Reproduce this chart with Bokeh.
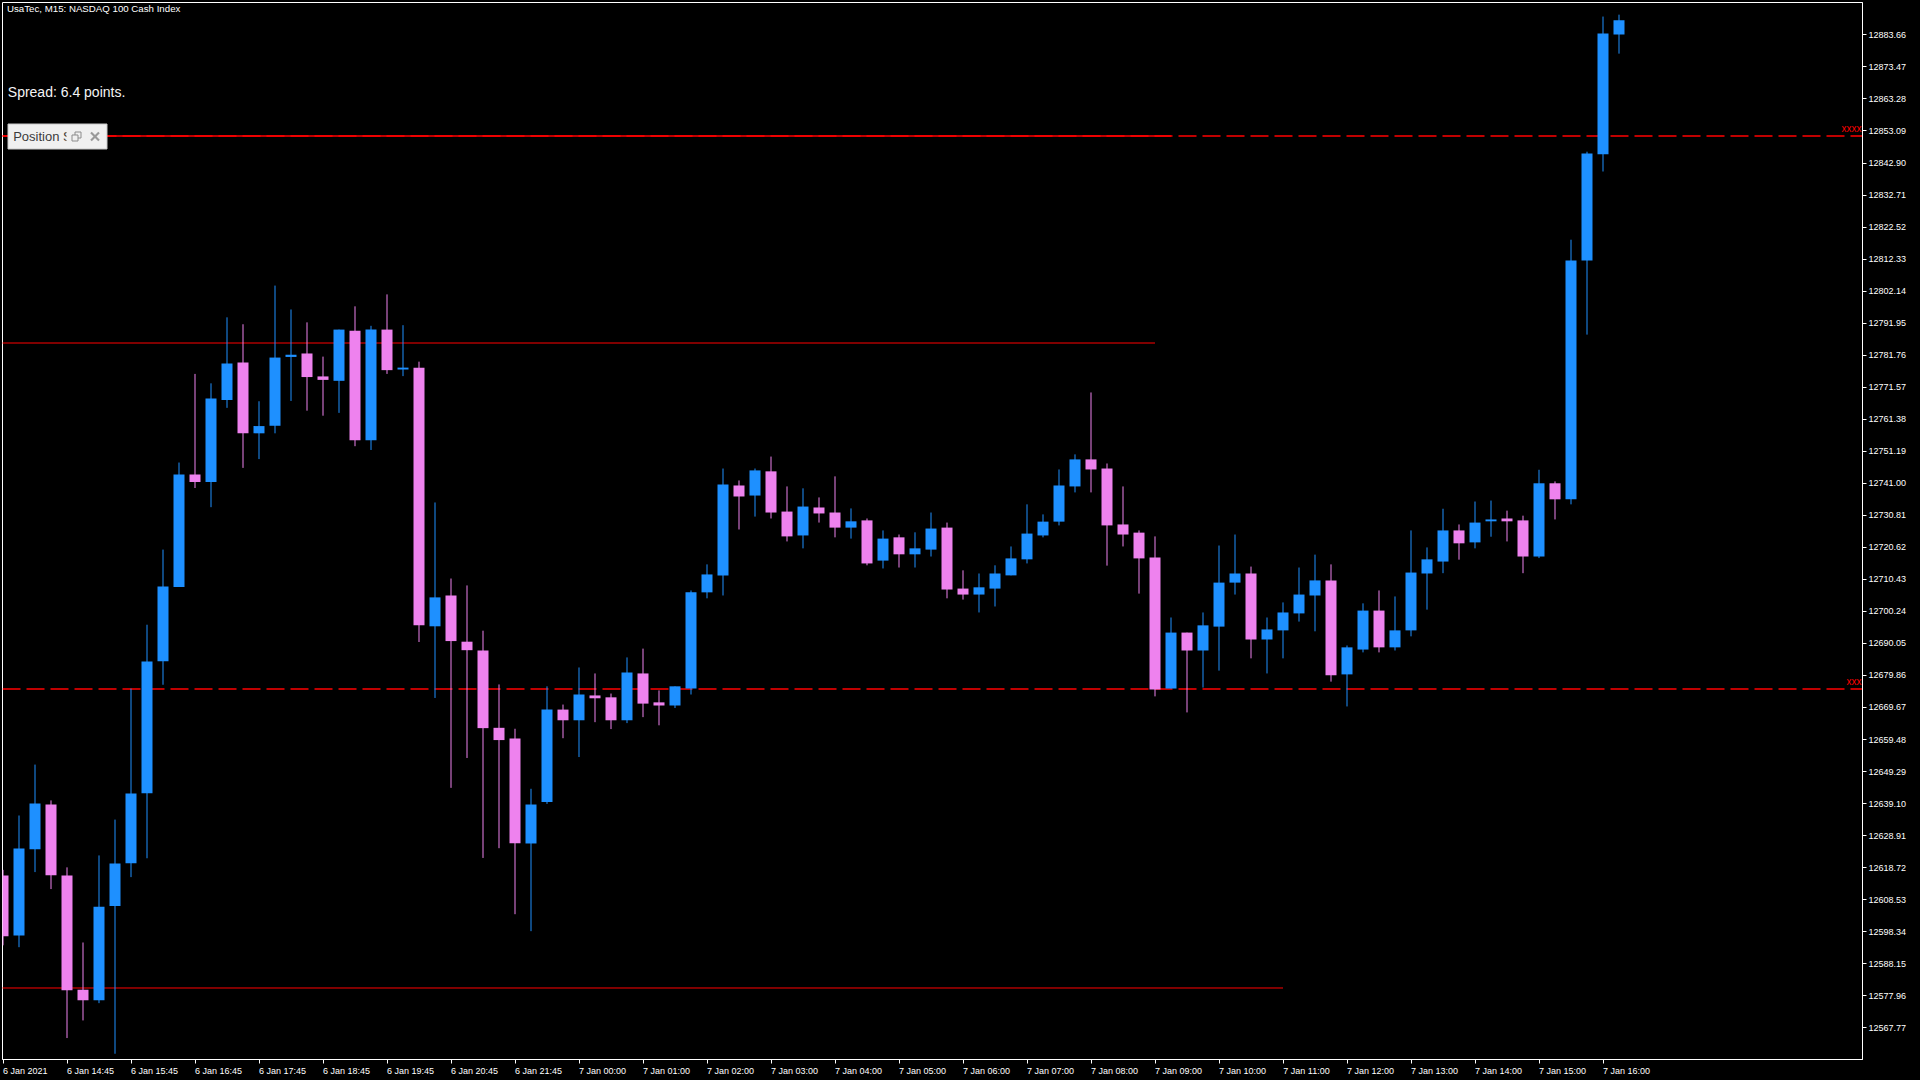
from bokeh.plotting import figure
from bokeh.models import (Range1d, FixedTicker, Span, Label, ColumnDataSource,
                          NumeralTickFormatter, LinearAxis, CustomJSTickFormatter)
from bokeh.core.properties import value
from bokeh.embed import file_html
from bokeh.resources import INLINE

# ---------------- data (USATEC M15, 6-7 Jan 2021) ----------------
opens = [12616.2, 12597.1, 12624.6, 12638.8, 12616.2, 12579.9, 12576.5, 12606.5, 12620.1, 12642.4,
         12684.4, 12708.0, 12743.8, 12741.4, 12767.5, 12779.4, 12756.9, 12759.3, 12781.2, 12782.3,
         12775.0, 12773.6, 12789.5, 12754.7, 12789.9, 12777.2, 12777.8, 12695.5, 12705.3, 12690.6,
         12687.8, 12663.2, 12659.8, 12626.4, 12639.6, 12669.0, 12665.6, 12673.5, 12672.9, 12665.6,
         12680.5, 12671.3, 12670.3, 12675.7, 12706.3, 12711.7, 12740.3, 12737.1, 12744.8, 12732.0,
         12724.4, 12733.3, 12731.7, 12726.9, 12729.2, 12716.4, 12723.8, 12718.4, 12719.9, 12726.9,
         12707.5, 12705.6, 12707.5, 12711.7, 12716.8, 12724.4, 12728.8, 12740.0, 12748.6, 12745.7,
         12727.9, 12725.3, 12717.4, 12675.7, 12693.5, 12687.8, 12695.4, 12709.4, 12712.3, 12691.3,
         12694.2, 12699.6, 12705.3, 12710.1, 12680.2, 12688.1, 12700.5, 12688.8, 12694.2, 12712.3,
         12716.1, 12726.0, 12722.2, 12728.9, 12729.8, 12729.2, 12717.7, 12741.0, 12735.9, 12811.9,
         12845.7, 12883.8]
highs = [12618.0, 12635.3, 12651.5, 12640.1, 12618.8, 12594.9, 12622.6, 12634.0, 12675.7, 12696.0,
         12719.9, 12747.6, 12775.8, 12772.8, 12793.8, 12791.6, 12767.1, 12803.9, 12796.3, 12792.2,
         12781.3, 12789.9, 12797.3, 12791.1, 12801.1, 12791.3, 12779.7, 12734.9, 12710.7, 12708.5,
         12694.1, 12677.0, 12662.9, 12643.8, 12676.4, 12670.6, 12682.4, 12680.5, 12674.1, 12685.6,
         12688.4, 12675.1, 12676.4, 12706.9, 12715.2, 12745.7, 12741.9, 12745.7, 12749.5, 12740.0,
         12739.4, 12736.5, 12743.2, 12733.0, 12729.8, 12726.0, 12724.7, 12725.4, 12731.7, 12728.5,
         12713.3, 12712.3, 12714.9, 12720.9, 12734.3, 12731.1, 12745.4, 12750.2, 12769.9, 12747.3,
         12740.0, 12726.0, 12724.1, 12698.3, 12693.5, 12699.9, 12721.2, 12724.7, 12714.5, 12698.3,
         12703.1, 12714.2, 12718.3, 12715.2, 12689.4, 12702.8, 12706.9, 12705.0, 12726.0, 12720.6,
         12732.9, 12727.9, 12735.2, 12735.5, 12732.3, 12730.7, 12745.3, 12741.6, 12818.5, 12846.5,
         12889.5, 12890.1]
lows = [12594.0, 12593.4, 12617.3, 12611.9, 12564.5, 12570.1, 12575.6, 12559.5, 12615.7, 12621.7,
        12676.9, 12708.0, 12739.5, 12733.4, 12765.0, 12745.9, 12748.7, 12756.9, 12767.2, 12764.1,
        12762.5, 12763.4, 12752.8, 12751.6, 12775.8, 12775.1, 12690.5, 12672.7, 12644.1, 12653.6,
        12621.8, 12624.9, 12603.9, 12598.5, 12639.0, 12659.9, 12653.9, 12665.0, 12662.8, 12664.7,
        12666.6, 12664.0, 12669.5, 12673.8, 12704.4, 12705.3, 12726.3, 12730.4, 12729.8, 12722.5,
        12720.3, 12728.5, 12723.8, 12723.4, 12714.9, 12713.9, 12714.2, 12714.2, 12717.7, 12704.4,
        12704.0, 12699.9, 12701.8, 12711.7, 12715.5, 12723.8, 12727.6, 12738.1, 12738.1, 12714.8,
        12720.9, 12705.9, 12673.2, 12675.7, 12668.1, 12676.0, 12681.4, 12705.6, 12685.3, 12680.5,
        12685.3, 12697.0, 12693.9, 12677.9, 12670.0, 12687.2, 12687.2, 12687.8, 12692.3, 12700.8,
        12712.4, 12716.7, 12720.3, 12724.0, 12722.5, 12712.4, 12717.2, 12729.5, 12734.3, 12788.3,
        12840.2, 12877.7]
closes = [12596.9, 12624.8, 12639.1, 12616.3, 12579.7, 12576.5, 12606.3, 12620.0, 12642.3, 12684.3,
          12708.2, 12743.8, 12741.4, 12768.0, 12779.1, 12756.9, 12759.2, 12781.0, 12781.9, 12774.8,
          12773.9, 12789.9, 12754.7, 12789.9, 12777.0, 12777.8, 12695.8, 12704.7, 12690.8, 12687.9,
          12663.1, 12659.3, 12626.5, 12638.8, 12669.0, 12665.6, 12673.8, 12672.6, 12665.6, 12680.8,
          12670.9, 12670.3, 12676.4, 12706.3, 12712.0, 12740.6, 12736.8, 12745.1, 12731.7, 12724.1,
          12733.6, 12731.4, 12726.9, 12728.9, 12715.5, 12723.4, 12718.4, 12720.3, 12726.6, 12707.2,
          12705.6, 12707.9, 12712.3, 12717.1, 12725.0, 12728.8, 12740.3, 12748.6, 12745.4, 12727.6,
          12724.7, 12717.1, 12675.4, 12693.5, 12687.8, 12695.8, 12709.4, 12712.3, 12691.3, 12694.5,
          12699.9, 12705.6, 12710.1, 12679.9, 12688.8, 12700.5, 12688.8, 12694.2, 12712.6, 12716.8,
          12726.0, 12721.9, 12728.5, 12729.5, 12728.9, 12717.7, 12741.0, 12735.9, 12811.9, 12845.9,
          12884.1, 12888.3]

x_tick_labels = ["6 Jan 2021", "6 Jan 14:45", "6 Jan 15:45", "6 Jan 16:45", "6 Jan 17:45",
                 "6 Jan 18:45", "6 Jan 19:45", "6 Jan 20:45", "6 Jan 21:45", "7 Jan 00:00",
                 "7 Jan 01:00", "7 Jan 02:00", "7 Jan 03:00", "7 Jan 04:00", "7 Jan 05:00",
                 "7 Jan 06:00", "7 Jan 07:00", "7 Jan 08:00", "7 Jan 09:00", "7 Jan 10:00",
                 "7 Jan 11:00", "7 Jan 12:00", "7 Jan 13:00", "7 Jan 14:00", "7 Jan 15:00",
                 "7 Jan 16:00"]
y_tick_values = [12567.77, 12577.96, 12588.15, 12598.34, 12608.53, 12618.72, 12628.91, 12639.10,
                 12649.29, 12659.48, 12669.67, 12679.86, 12690.05, 12700.24, 12710.43, 12720.62,
                 12730.81, 12741.00, 12751.19, 12761.38, 12771.57, 12781.76, 12791.95, 12802.14,
                 12812.33, 12822.52, 12832.71, 12842.90, 12853.09, 12863.28, 12873.47, 12883.66]

level_tp = 12851.5        # dashed order level (top)
level_open = 12675.55     # dashed order level (middle)
level_resist = 12785.63   # solid horizontal segment
level_support = 12580.42  # solid horizontal segment
tp_segment_end_bar = 73
resist_end_bar = 72
support_end_bar = 80

chart_title = "UsaTec, M15:  NASDAQ 100 Cash Index"
spread_text = "Spread: 6.4 points."
panel_text = "Position S"

# ---------------- layout constants (pixels) ----------------
W, H = 1920, 1080
FL, FT, FR, FB = 2, 2, 1862, 1059          # frame edges
BAR_PX = 16.0
X_START = (FL - 2.5) / BAR_PX
X_END = X_START + (FR - FL) / BAR_PX
Y_TOP, Y_BOT = 12893.97, 12557.67

def dx(px):
    return X_START + (px - FL) / BAR_PX

def dy(py):
    return Y_TOP - (py - FT) * (Y_TOP - Y_BOT) / (FB - FT)

BULL, BEAR = "#1E90FF", "#EE82EE"
FONT = "Liberation Sans"
AXIS_FONT_PX = 9.0

# approximate advance widths (em) of Liberation Sans, used to left-align time labels
_ADV = {" ": 0.278, ":": 0.278, "J": 0.5, "a": 0.556, "n": 0.556}
def text_px(s, size):
    return sum(_ADV.get(ch, 0.556) for ch in s) * size

idx = list(range(len(opens)))
colors = [BULL if c >= o else BEAR for o, c in zip(opens, closes)]
src = ColumnDataSource(dict(
    x=idx, o=opens, h=highs, l=lows, c=closes, col=colors,
    top=[max(o, c) for o, c in zip(opens, closes)],
    bot=[min(o, c) for o, c in zip(opens, closes)],
))

p = figure(width=W, height=H, output_backend="svg", toolbar_location=None,
           x_range=Range1d(X_START, X_END), y_range=Range1d(Y_BOT, Y_TOP),
           y_axis_location="right", title=None,
           min_border_left=FL, min_border_top=FT,
           min_border_right=W - FR, min_border_bottom=H - FB)
p.background_fill_color = "black"
p.border_fill_color = "black"
p.outline_line_color = "white"
p.outline_line_width = 1
p.xgrid.visible = False
p.ygrid.visible = False

# horizontal lines
for lvl in (level_tp, level_open):
    p.add_layout(Span(location=lvl, dimension="width", line_color="#FF0000",
                      line_width=1.5, line_dash="18 6", level="underlay"))
p.segment(x0=[X_START - 1], x1=[tp_segment_end_bar], y0=[level_tp], y1=[level_tp],
          line_color="#FF0000", line_width=1.5)
p.segment(x0=[X_START - 1] * 2, x1=[resist_end_bar, support_end_bar],
          y0=[level_resist, level_support], y1=[level_resist, level_support],
          line_color="#FF0000", line_width=1)

# candles
p.segment(x0="x", x1="x", y0="l", y1="h", line_color="col", line_width=1, source=src)
p.vbar(x="x", width=11 / BAR_PX, top="top", bottom="bot", fill_color="col",
       line_color=None, source=src)

# ---- axes ----
ticks_x = [4 * k for k in range(len(x_tick_labels))]
# inner bottom axis: tick marks only
ax = p.xaxis[0]
ax.ticker = FixedTicker(ticks=ticks_x)
ax.major_label_overrides = {t: "" for t in ticks_x}
ax.major_label_text_font_size = "0px"
ax.major_label_standoff = 0
ax.axis_line_color = "white"
ax.major_tick_line_color = "white"
ax.minor_tick_line_color = None
ax.major_tick_out = 4
ax.major_tick_in = 0
# outer bottom axis: labels whose left edge sits on the tick (MetaTrader style)
label_centres = [round(t + text_px(lab, AXIS_FONT_PX) / 2 / BAR_PX, 5)
                 for t, lab in zip(ticks_x, x_tick_labels)]
ax_lab = LinearAxis(ticker=FixedTicker(ticks=label_centres),
                    formatter=CustomJSTickFormatter(args=dict(labels=x_tick_labels),
                                                    code="return labels[index] || '';"),
                    axis_line_color=None, major_tick_line_color=None,
                    minor_tick_line_color=None, major_tick_out=0, major_tick_in=0,
                    major_label_standoff=2, major_label_text_color="white",
                    major_label_text_font=FONT,
                    major_label_text_font_size=f"{AXIS_FONT_PX}px")
p.add_layout(ax_lab, "below")

ay = p.yaxis[0]
ay.ticker = FixedTicker(ticks=y_tick_values)
ay.formatter = NumeralTickFormatter(format="0.00")
ay.axis_line_color = "white"
ay.major_tick_line_color = "white"
ay.minor_tick_line_color = None
ay.major_tick_out = 4
ay.major_tick_in = 0
ay.major_label_text_color = "white"
ay.major_label_text_font = FONT
ay.major_label_text_font_size = f"{AXIS_FONT_PX}px"
ay.major_label_standoff = 2

# texts
p.add_layout(Label(x=dx(6.5), y=dy(8.2), text=chart_title, text_color="white",
                   text_font=FONT, text_font_size="9.7px",
                   text_align="left", text_baseline="middle"))
p.add_layout(Label(x=dx(7.3), y=dy(91.0), text=spread_text, text_color="#F4F4F4",
                   text_font=FONT, text_font_size="14px",
                   text_align="left", text_baseline="middle"))
for py, t in ((127.5, "xxxx"), (680.5, "xxx")):
    p.add_layout(Label(x=dx(1861), y=dy(py), text=t, text_color="#FF0000",
                       text_font=FONT, text_font_size="10px",
                       text_align="right", text_baseline="middle"))

# minimised "Position Size Calculator" panel
p.quad(left=[dx(7.5)], right=[dx(106.5)], top=[dy(123.5)], bottom=[dy(148.5)],
       fill_color="#F0F0F0", line_color="#C8C8C8", line_width=1)
p.text(x=[dx(12.7)], y=[dy(136.4)], text=[panel_text], text_color="#3C3C3C",
       text_font=value(FONT), text_font_size="13px",
       text_align="left", text_baseline="middle")
p.quad(left=[dx(66)], right=[dx(105.5)], top=[dy(125)], bottom=[dy(147)],
       fill_color="#F0F0F0", line_color=None)
p.rect(x=[dx(77.5), dx(74.5)], y=[dy(134.5), dy(137.5)], width=6, height=6,
       width_units="screen", height_units="screen",
       fill_color=[None, "#F0F0F0"], line_color="#8C8C8C", line_width=1)
p.segment(x0=[dx(90.5), dx(90.5)], x1=[dx(98.5), dx(98.5)],
          y0=[dy(132), dy(140)], y1=[dy(140), dy(132)],
          line_color="#9A9A9A", line_width=2.2)

html = file_html(p, INLINE).replace(
    "<head>", "<head><style>html,body{margin:0;padding:0;background:#000;overflow:hidden}</style>", 1)
open("out.html", "w").write(html)
